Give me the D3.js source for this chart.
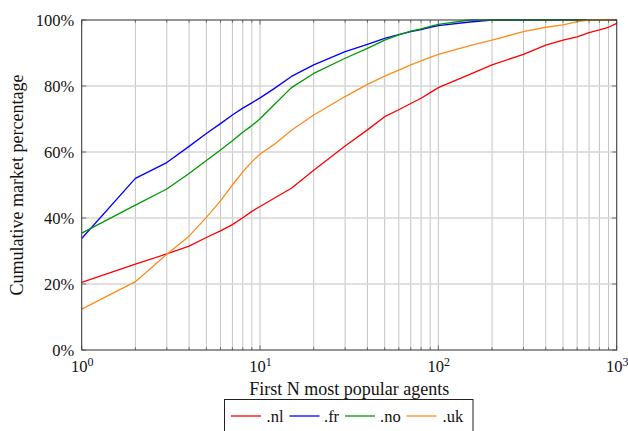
<!DOCTYPE html>
<html>
<head>
<meta charset="utf-8">
<script src="https://cdn.jsdelivr.net/npm/d3@7"></script>
<style>
  html, body { margin: 0; padding: 0; background: #fff; }
  svg { display: block; }
  svg text { font-family: "Liberation Serif", "Times New Roman", Times, "DejaVu Serif", serif !important; }
</style>
</head>
<body>
<svg id="chart" width="628" height="431"></svg>
<script>
// ---- data ----
const agentsN = [1,2,3,4,5,6,7,8,9,10,12,15,20,30,40,50,60,70,80,90,100,150,200,300,400,500,600,700,800,900,1000];
const seriesNames = [".nl", ".fr", ".no", ".uk"];
const nlValues = [20.5,26,29.1,31.5,34.1,36.1,38,40.1,42,43.5,46.0,49.0,54.5,61.8,66.7,70.7,72.8,74.7,76.3,78,79.5,83.5,86.4,89.6,92.4,93.9,94.9,96.2,97,97.8,99];
const frValues = [33.8,52,56.8,61.7,65.6,68.6,71.2,73.3,74.9,76.4,79.2,82.9,86.4,90.4,92.6,94.4,95.6,96.5,97.1,97.8,98.3,99.4,100,100,100,100,100,100,100,100,100];
const noValues = [35.4,43.9,48.8,53.5,57.4,60.6,63.4,66,68,70.1,74.3,79.5,83.8,88.4,91.4,93.9,95.5,96.6,97.3,98.1,98.7,100,100,100,100,100,100,100,100,100,100];
const ukValues = [12.4,20.7,29,34.5,40.2,45.2,50,54,57,59.4,62.3,66.6,71.2,76.8,80.5,83,84.8,86.4,87.6,88.7,89.6,92.2,93.9,96.5,97.8,98.5,99.5,100,100,100,100];
const yTickValues = [0,20,40,60,80,100];
const xMajorTicks = [1,10,100,1000];
const xLabel = "First N most popular agents";
const yLabel = "Cumulative market percentage";

const seriesValues = [nlValues, frValues, noValues, ukValues];
const colors = ["#ff0000", "#0000ff", "#009a00", "#ff8c1a"];
const FONT = "Liberation Serif, Times New Roman, Times, DejaVu Serif, serif";

// ---- layout ----
const svg = d3.select("#chart");
const pL = 81.7, pR = 616.7, pT = 20, pB = 350;
const x = d3.scaleLog().domain([1, 1000]).range([pL, pR]);
const y = d3.scaleLinear().domain([0, 100]).range([pB, pT]);

const xAllTicks = x.ticks();
const xMinor = xAllTicks.filter(t => !xMajorTicks.includes(t));

// grid
const grid = svg.append("g");
grid.selectAll("line.v").data(xAllTicks.filter(t => t > 1 && t < 1000)).enter().append("line")
  .attr("x1", d => x(d)).attr("x2", d => x(d)).attr("y1", pT).attr("y2", pB)
  .attr("stroke", "#c4c4c4").attr("stroke-width", 1);
grid.selectAll("line.h").data(yTickValues.filter(t => t > 0 && t < 100)).enter().append("line")
  .attr("x1", pL).attr("x2", pR).attr("y1", d => y(d)).attr("y2", d => y(d))
  .attr("stroke", "#d6d6d6").attr("stroke-width", 1.5);

// lines
const line = d3.line().x((d, i) => x(agentsN[i])).y(d => y(d));
svg.append("g").selectAll("path").data(seriesValues).enter().append("path")
  .attr("d", d => line(d)).attr("fill", "none")
  .attr("stroke", (d, i) => colors[i]).attr("stroke-width", 1.3)
  .attr("stroke-linejoin", "round");

// ticks (inward, all four sides)
const tk = svg.append("g").attr("stroke", "#555").attr("stroke-width", 0.8);
xMajorTicks.concat(xMinor).forEach(t => {
  const len = xMajorTicks.includes(t) ? 4.5 : 2.8;
  tk.append("line").attr("x1", x(t)).attr("x2", x(t)).attr("y1", pB).attr("y2", pB - len);
  tk.append("line").attr("x1", x(t)).attr("x2", x(t)).attr("y1", pT).attr("y2", pT + len);
});
yTickValues.forEach(t => {
  tk.append("line").attr("x1", pL).attr("x2", pL + 4.5).attr("y1", y(t)).attr("y2", y(t));
  tk.append("line").attr("x1", pR).attr("x2", pR - 4.5).attr("y1", y(t)).attr("y2", y(t));
});

// frame
svg.append("rect").attr("x", pL).attr("y", pT).attr("width", pR - pL).attr("height", pB - pT)
  .attr("fill", "none").attr("stroke", "#404040").attr("stroke-width", 1.1);

// y tick labels
const yAxisG = svg.append("g").attr("transform", `translate(${pL},0)`)
  .call(d3.axisLeft(y).tickValues(yTickValues).tickSize(0).tickPadding(7.5).tickFormat(d => d + "%"));
yAxisG.attr("font-family", FONT);
yAxisG.select(".domain").remove();
yAxisG.selectAll("text").attr("font-family", FONT).attr("font-size", 16.5).attr("fill", "#111");

// x tick labels with superscript exponent
const xAxisG = svg.append("g").attr("transform", `translate(0,${pB})`)
  .call(d3.axisBottom(x).tickValues(xMajorTicks).tickSize(0).tickPadding(0).tickFormat(""));
xAxisG.attr("font-family", FONT);
xAxisG.select(".domain").remove();
xAxisG.selectAll(".tick").each(function(d) {
  const t = d3.select(this).append("text").attr("y", 21.7).attr("text-anchor", "middle")
    .attr("font-family", FONT).attr("font-size", 16.5).attr("fill", "#111");
  t.append("tspan").text("10");
  t.append("tspan").attr("font-size", 12).attr("dy", -6).text(String(Math.round(Math.log10(d))));
});

// axis titles
svg.append("text").attr("x", (pL + pR) / 2).attr("y", 395).attr("text-anchor", "middle")
  .attr("font-family", FONT).attr("font-size", 18).attr("fill", "#111").text(xLabel);
svg.append("text").attr("transform", `translate(22.5,${(pT + pB) / 2}) rotate(-90)`)
  .attr("text-anchor", "middle").attr("font-family", FONT).attr("font-size", 18).attr("fill", "#111").text(yLabel);

// legend
const legend = svg.append("g");
legend.append("rect").attr("x", 224.5).attr("y", 399.5).attr("width", 248.5).attr("height", 40)
  .attr("fill", "#fff").attr("stroke", "#222").attr("stroke-width", 1);
const legendLineX = [231, 289.5, 345, 406.5];
const legendTextX = [266.5, 324, 380, 442.5];
seriesNames.forEach((name, i) => {
  legend.append("line").attr("x1", legendLineX[i]).attr("x2", legendLineX[i] + 30)
    .attr("y1", 416).attr("y2", 416).attr("stroke", colors[i]).attr("stroke-width", 1.3);
  legend.append("text").attr("x", legendTextX[i]).attr("y", 421.7).attr("font-family", FONT).attr("font-size", 16.5)
    .attr("fill", "#111").text(name);
});
</script>
</body>
</html>
